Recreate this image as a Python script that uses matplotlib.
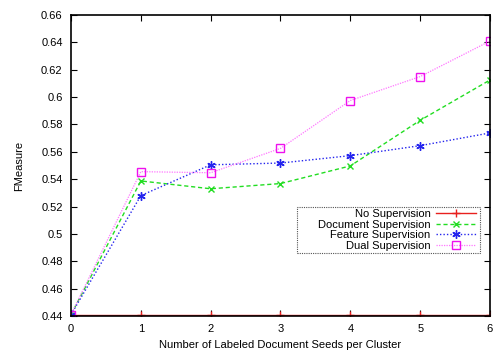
import matplotlib
matplotlib.use("Agg")
import matplotlib.pyplot as plt
from matplotlib.patches import Rectangle

seeds = [0, 1, 2, 3, 4, 5, 6]
no_sup = [0.4405, 0.4405, 0.4405, 0.4405, 0.4405, 0.4405, 0.4405]
doc_sup = [0.441, 0.5387, 0.5330, 0.5368, 0.5497, 0.5830, 0.6125]
feat_sup = [0.441, 0.5280, 0.5505, 0.5518, 0.5572, 0.5645, 0.5738]
dual_sup = [0.441, 0.5455, 0.5447, 0.5625, 0.5975, 0.6150, 0.6410]
yticks = [0.44, 0.46, 0.48, 0.5, 0.52, 0.54, 0.56, 0.58, 0.6, 0.62, 0.64, 0.66]
ytick_labels = ["0.44", "0.46", "0.48", "0.5", "0.52", "0.54", "0.56", "0.58",
                "0.6", "0.62", "0.64", "0.66"]

plt.rcParams["font.family"] = ["Liberation Sans", "DejaVu Sans"]

W, H = 502, 352
fig = plt.figure(figsize=(W / 100, H / 100), dpi=100)
ax = fig.add_axes([71 / W, 36 / H, 419 / W, 301 / H])

ax.plot(seeds, no_sup, color="#e8201e", lw=1.0, marker="+", ms=6, mew=1.0,
        label="No Supervision")
ax.plot(seeds, doc_sup, color="#22dd22", lw=1.0, ls=(0, (3, 2)), marker="x",
        ms=5, mew=1.0, label="Document Supervision")
ax.plot(seeds, feat_sup, color="#2424ee", lw=1.0, ls=(0, (1, 1.5)), marker=(6, 2, 0),
        ms=6, mew=1.0, label="Feature Supervision")
ax.plot(seeds, dual_sup, color="#ff77ff", lw=0.9, ls=(0, (1, 1)), marker="s",
        ms=6, mfc="none", mec="#ee11ee", mew=1.0, label="Dual Supervision")

ax.set_xlim(0, 6)
ax.set_ylim(0.44, 0.66)
ax.set_xticks(seeds)
ax.set_yticks(yticks)
ax.set_yticklabels(ytick_labels)
ax.tick_params(direction="in", top=True, right=True, labelsize=8, length=4,
               width=0.8, pad=6)
for s in ax.spines.values():
    s.set_linewidth(1.2)

ax.set_xlabel("Number of Labeled Document Seeds per Cluster", fontsize=8, labelpad=4)
ax.set_ylabel("FMeasure", fontsize=8, labelpad=12)

# legend: text right-aligned, sample to the right, in a dotted box drawn by hand
leg = ax.legend(loc="upper right", bbox_to_anchor=((476 - 71) / 419, 1 - 194 / 301),
                fontsize=8, markerfirst=False, frameon=False,
                borderpad=0, labelspacing=0.05, handlelength=3.6,
                handletextpad=0.5, borderaxespad=0)
for t in leg.get_texts():
    t.set_ha("right")
leg._legend_box.align = "right"

box_x0, box_x1 = (297 - 71) / 419, (480 - 71) / 419
box_y0, box_y1 = 1 - (253 - 15) / 301, 1 - (207 - 15) / 301
ax.add_patch(Rectangle((box_x0, box_y0), box_x1 - box_x0, box_y1 - box_y0,
                       transform=ax.transAxes, fill=True, facecolor="white",
                       edgecolor="#555555", lw=0.8, ls=(0, (1, 1)), zorder=4))
leg.set_zorder(5)

fig.savefig("out.png", dpi=100, facecolor="white")
